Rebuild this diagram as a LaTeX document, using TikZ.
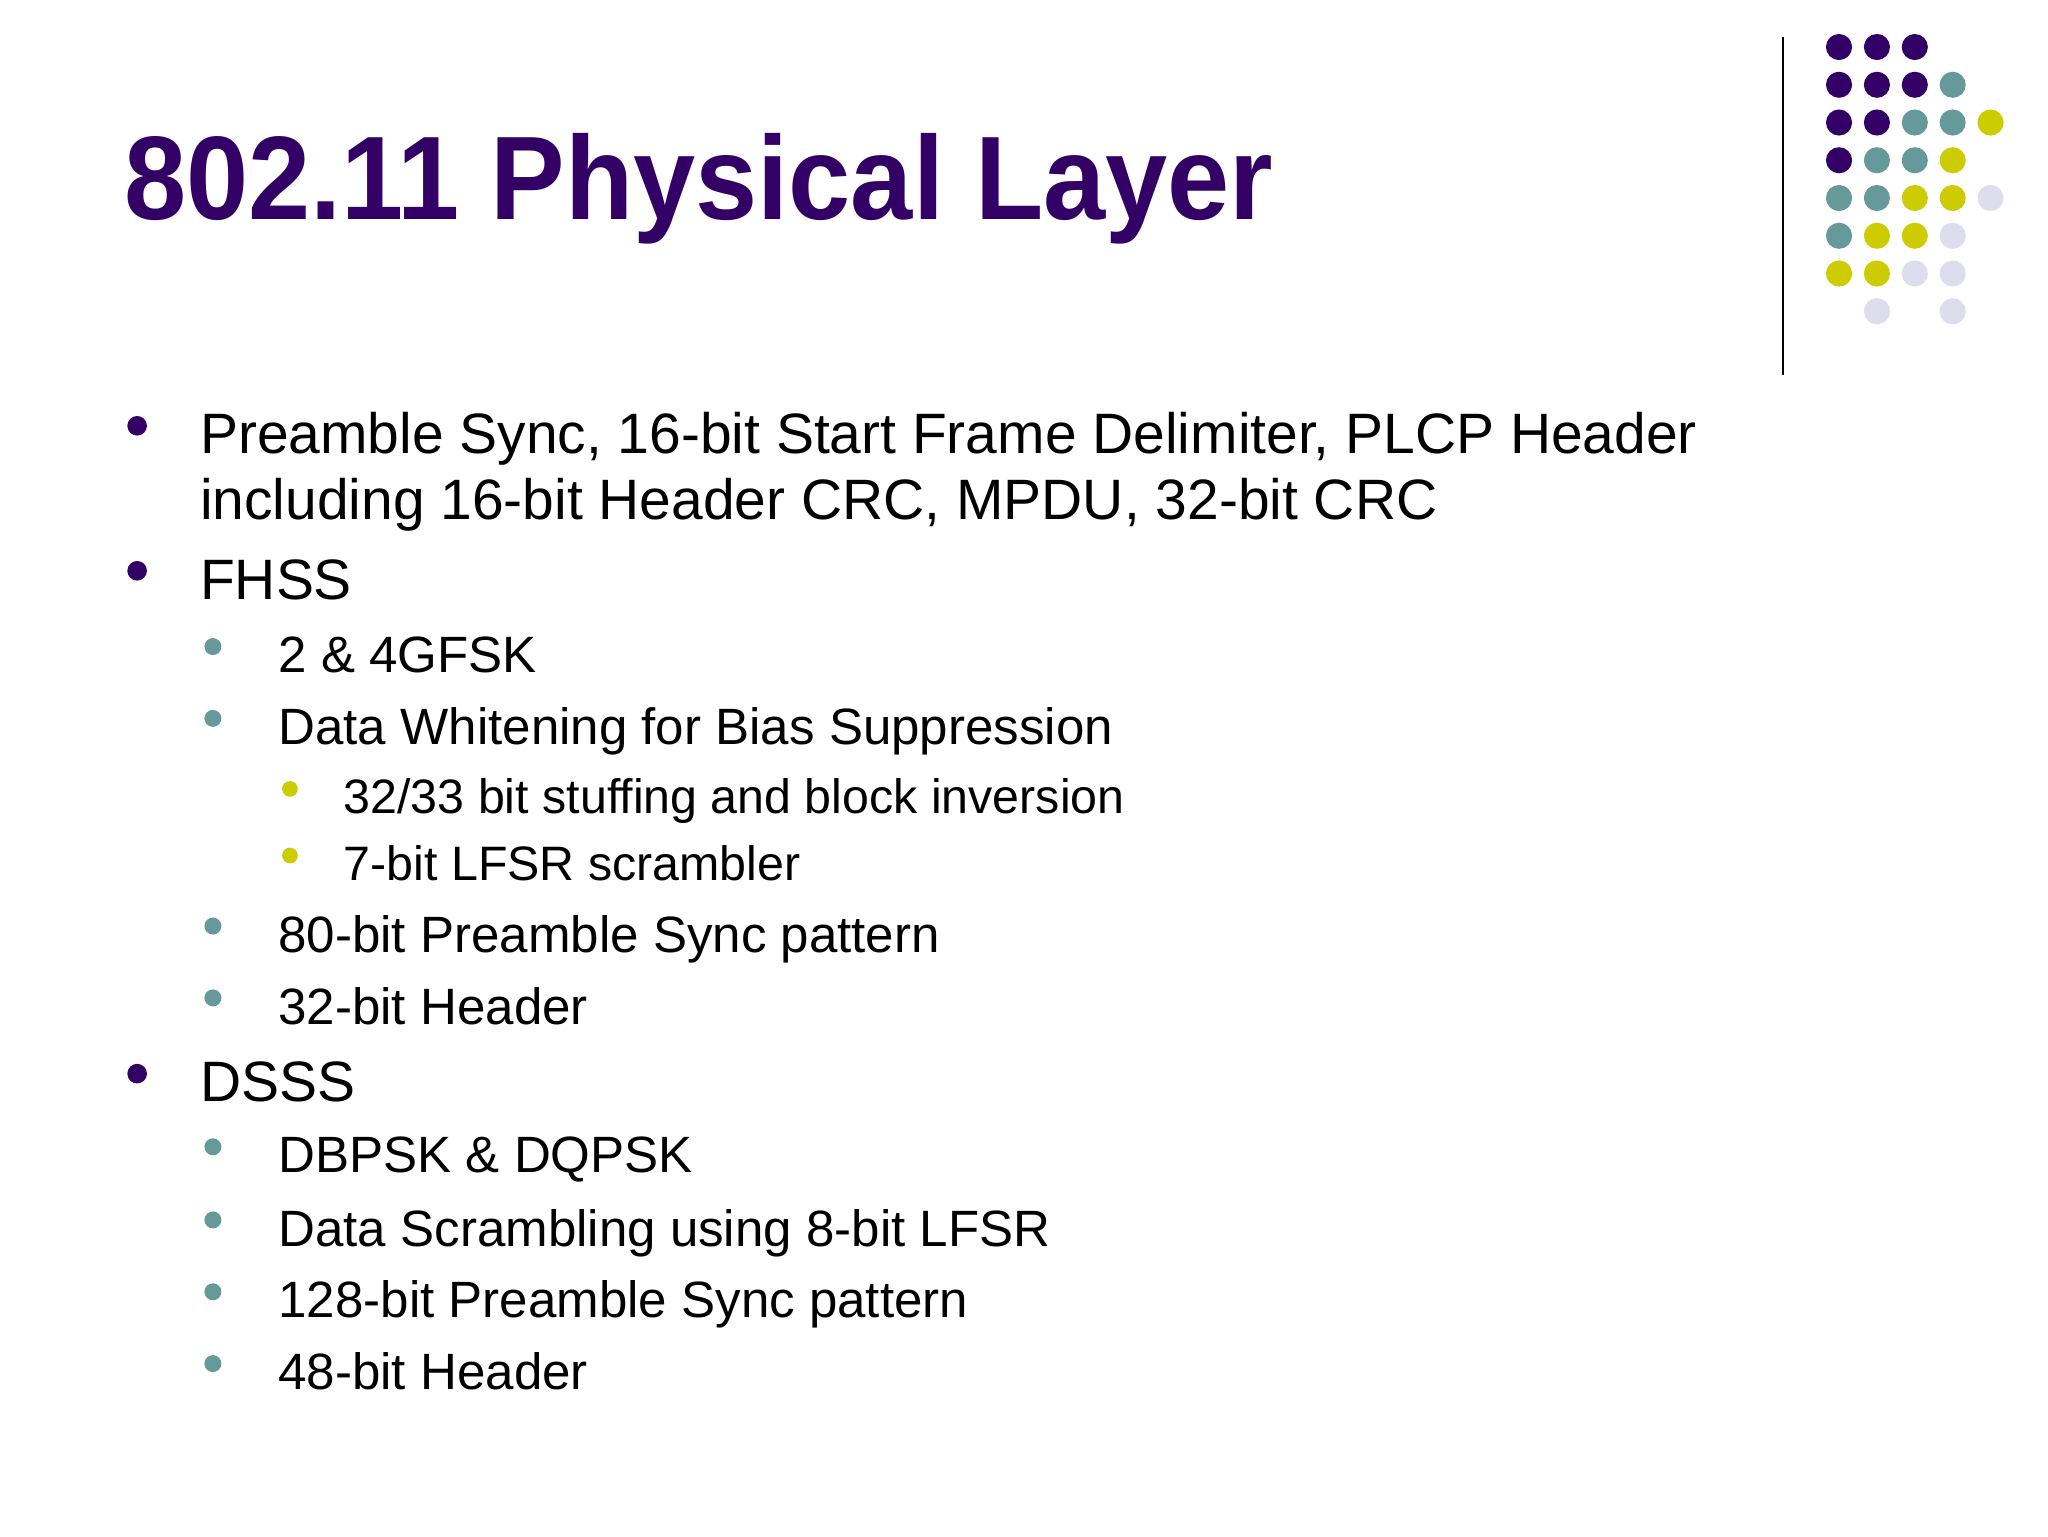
\documentclass[tikz,border=0pt]{standalone}
\usepackage{fontspec}
\setmainfont{Liberation Sans}
\definecolor{dpurple}{HTML}{330066}
\definecolor{dteal}{HTML}{669999}
\definecolor{dyellow}{HTML}{CCCC00}
\definecolor{dlav}{HTML}{DDDDEE}
\tikzset{
 lone/.style={anchor=base west,inner sep=0pt,font=\fontsize{43.6}{50}\selectfont},
 ltwo/.style={anchor=base west,inner sep=0pt,font=\fontsize{39.1}{46}\selectfont},
 lthree/.style={anchor=base west,inner sep=0pt,font=\fontsize{37}{42}\selectfont},
 gdot/.style={circle,inner sep=0pt,minimum size=20pt,fill=#1}
}
\begin{document}
\begin{tikzpicture}[x=1pt,y=1pt]
\useasboundingbox[fill=white] (0,0) rectangle (1568,-1176);
\node[anchor=base west,inner sep=0pt,text=dpurple,font=\fontsize{91}{100}\selectfont\bfseries,xscale=0.94] (title) at (95,-168) {802.11 Physical Layer};
\draw[line width=1.5pt] (1365,-28) -- (1365,-287);
% dots
\foreach \c/\r/\col in {0/0/dpurple,1/0/dpurple,2/0/dpurple,
 0/1/dpurple,1/1/dpurple,2/1/dpurple,3/1/dteal,
 0/2/dpurple,1/2/dpurple,2/2/dteal,3/2/dteal,4/2/dyellow,
 0/3/dpurple,1/3/dteal,2/3/dteal,3/3/dyellow,
 0/4/dteal,1/4/dteal,2/4/dyellow,3/4/dyellow,4/4/dlav,
 0/5/dteal,1/5/dyellow,2/5/dyellow,3/5/dlav,
 0/6/dyellow,1/6/dyellow,2/6/dlav,3/6/dlav,
 1/7/dlav,3/7/dlav}
 \node[gdot=\col] (d\c\r) at ({1408+29*\c},{-36-28.9*\r}) {};
% level 1
\foreach \y/\n in {326/b1,437/b2,822/b3}
 \node[circle,fill=dpurple,inner sep=0pt,minimum size=15pt] (\n) at (105,-\y) {};
\node[lone] (t1) at (153,-347) {Preamble Sync, 16-bit Start Frame Delimiter, PLCP Header};
\node[lone] (t1b) at (153,-398) {including 16-bit Header CRC, MPDU, 32-bit CRC};
\node[lone] (t2) at (153,-459) {FHSS};
\node[lone] (t3) at (153,-843) {DSSS};
% level 2
\foreach \y/\n in {495/c1,550/c2,709/c3,764/c4,878/c5,934/c6,989/c7,1044/c8}
 \node[circle,fill=dteal,inner sep=0pt,minimum size=13pt] (\n) at (163,-\y) {};
\node[ltwo] (s1) at (213,-515) {2 \& 4GFSK};
\node[ltwo] (s2) at (213,-570) {Data Whitening for Bias Suppression};
\node[ltwo] (s3) at (213,-729) {80-bit Preamble Sync pattern};
\node[ltwo] (s4) at (213,-784) {32-bit Header};
\node[ltwo] (s5) at (213,-898) {DBPSK \& DQPSK};
\node[ltwo] (s6) at (213,-954) {Data Scrambling using 8-bit LFSR};
\node[ltwo] (s7) at (213,-1009) {128-bit Preamble Sync pattern};
\node[ltwo] (s8) at (213,-1064) {48-bit Header};
% level 3
\foreach \y/\n in {604/e1,655/e2}
 \node[circle,fill=dyellow,inner sep=0pt,minimum size=12pt] (\n) at (222,-\y) {};
\node[lthree] (u1) at (263,-623) {32/33 bit stuffing and block inversion};
\node[lthree] (u2) at (263,-674) {7-bit LFSR scrambler};
\end{tikzpicture}
\end{document}
